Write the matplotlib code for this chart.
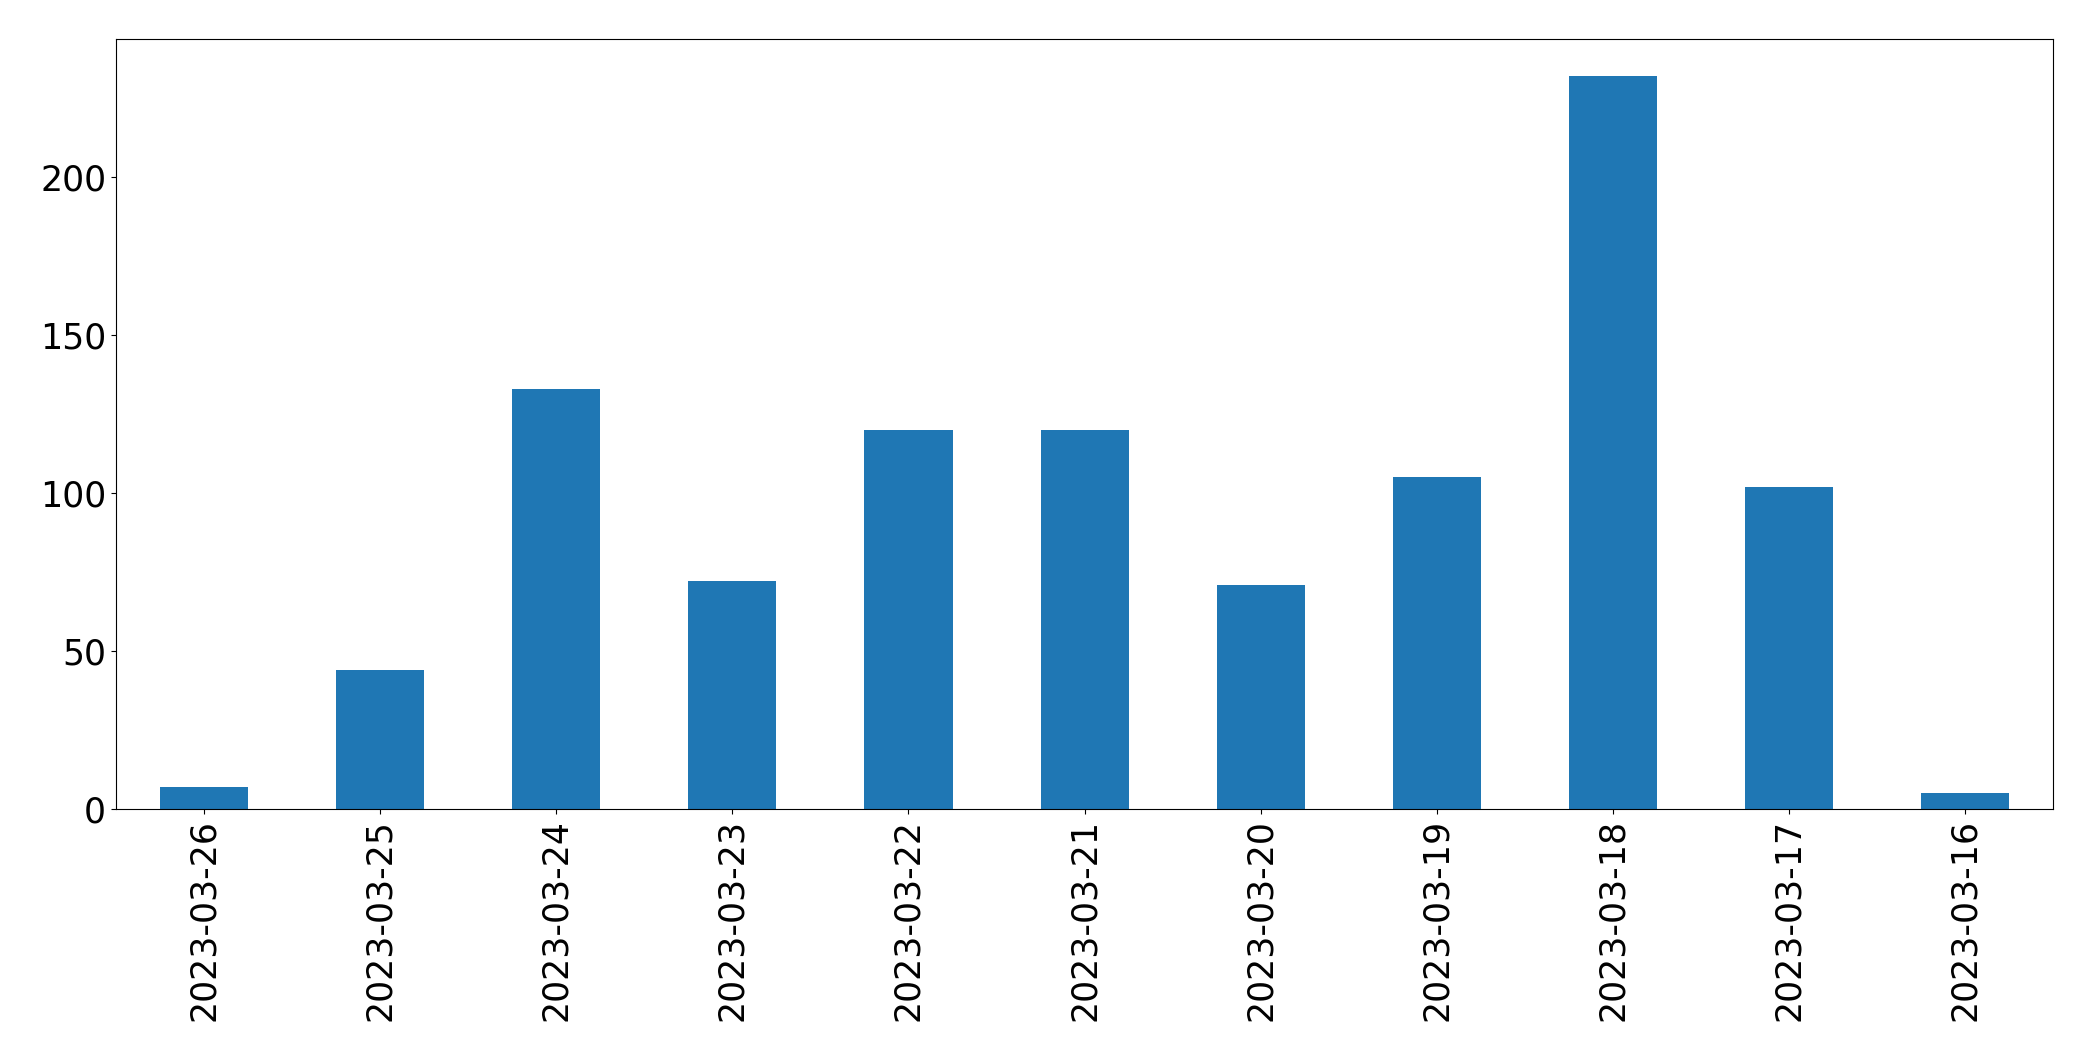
import matplotlib
matplotlib.use("Agg")
import matplotlib.pyplot as plt
import numpy as np

# 每日计数（按日期倒序）
dates = ["2023-03-26", "2023-03-25", "2023-03-24", "2023-03-23", "2023-03-22",
         "2023-03-21", "2023-03-20", "2023-03-19", "2023-03-18", "2023-03-17",
         "2023-03-16"]
counts = [7, 44, 133, 72, 120, 120, 71, 105, 232, 102, 5]

fig, ax = plt.subplots(figsize=(20.93, 10.61), dpi=100)
x = np.arange(len(dates))
ax.bar(x, counts, width=0.5, color="#1f77b4")
ax.set_xlim(-0.5, len(dates) - 0.5)
ax.set_xticks(x)
ax.set_xticklabels(dates, rotation=90)
ax.tick_params(labelsize=25)

fig.subplots_adjust(left=0.0554, right=0.981, top=0.9632, bottom=0.2375)
fig.savefig("out.png", dpi=100)
